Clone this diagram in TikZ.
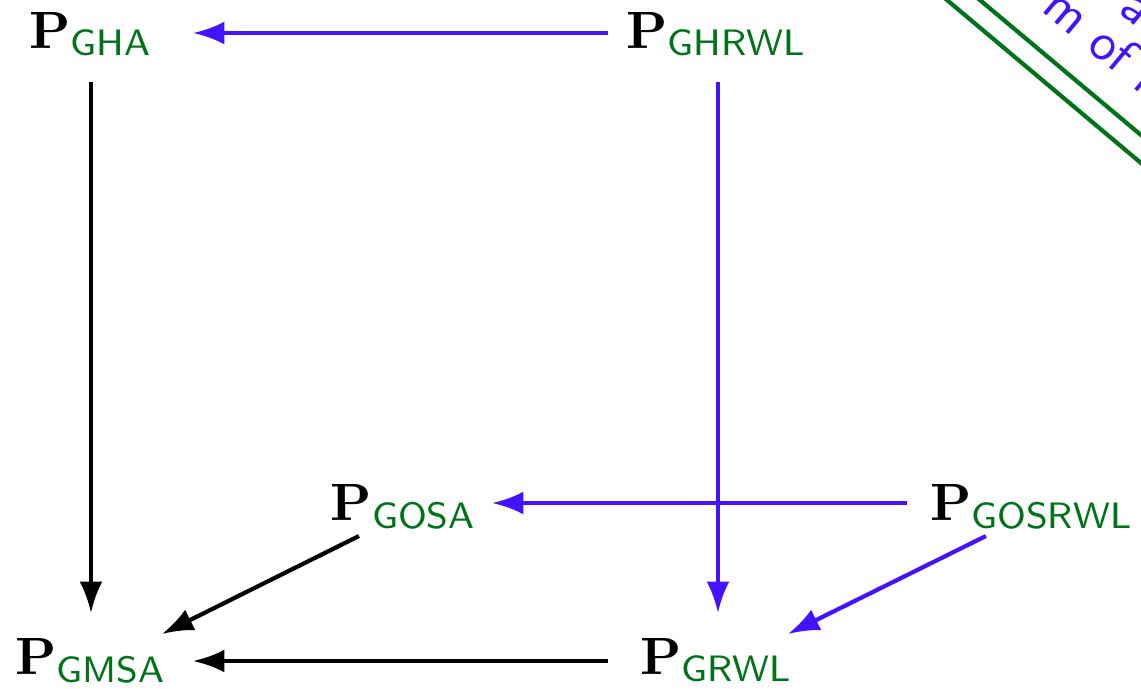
\documentclass[tikz,border=0pt]{standalone}
\usepackage{amsmath}
\usepackage{amssymb}
\usepackage{tikz}
\usetikzlibrary{arrows.meta}
\tikzstyle{pixelGrid} = [x = 0.1905pt, y = -0.1905pt]
\definecolor{subColor}{RGB}{0,115,25}
\definecolor{arrowBlue}{RGB}{68,18,255}
\tikzstyle{probNodeStyle} = [anchor=base, inner sep=0pt]
\tikzstyle{blackArrow} = [color=black, thick, -{Latex[length=6pt, width=4.4pt]}]
\tikzstyle{blueArrow} = [color=arrowBlue, thick, -{Latex[length=6pt, width=4.4pt]}]
\tikzstyle{borderLine} = [color=subColor, thick]
\tikzstyle{borderText} = [color=arrowBlue, font=\sffamily, rotate=-40, anchor=base, inner sep=0pt]
\newcommand{\probNode}[4]{\node [probNodeStyle] (#1) at (#2, #3) {$\mathbf{P}_{\textsf{\color{subColor}#4}}$};}

\begin{document}
\begin{tikzpicture}[pixelGrid]
  \useasboundingbox (0,0) rectangle (1141,689);
  % front face
  \probNode{GHA}{91}{48}{GHA}
  \probNode{GHRWL}{717}{48}{GHRWL}
  \probNode{GMSA}{91}{674}{GMSA}
  \probNode{GRWL}{717}{674}{GRWL}
  % back nodes
  \probNode{GOSA}{404}{520}{GOSA}
  \probNode{GOSRWL}{1032}{520}{GOSRWL}
  \draw [blueArrow] ([shift={(-109,-15)}]GHRWL.base) -- ([shift={(102,-15)}]GHA.base);
  \draw [blackArrow] ([shift={(0,34)}]GHA.base) -- ([shift={(0,-61)}]GMSA.base);
  \draw [blueArrow] ([shift={(1,34)}]GHRWL.base) -- ([shift={(1,-61)}]GRWL.base);
  \draw [blueArrow] ([shift={(-125,-17)}]GOSRWL.base) -- ([shift={(88,-17)}]GOSA.base);
  \draw [blackArrow] ([shift={(-45,16)}]GOSA.base) -- ([shift={(71,-40)}]GMSA.base);
  \draw [blueArrow] ([shift={(-46,16)}]GOSRWL.base) -- ([shift={(71,-40)}]GRWL.base);
  \draw [blackArrow] ([shift={(-109,-13)}]GRWL.base) -- ([shift={(102,-13)}]GMSA.base);
  % corner band
  \draw [borderLine] (900,-39.5) -- (1200,212.6);
  \draw [borderLine] (900,-67) -- (1200,184.5);
  \node [borderText] (bandUpper) at (1127,20) {a};
  \node [borderText] (bandLower) at (1093,54) {m of r};
\end{tikzpicture}
\end{document}
